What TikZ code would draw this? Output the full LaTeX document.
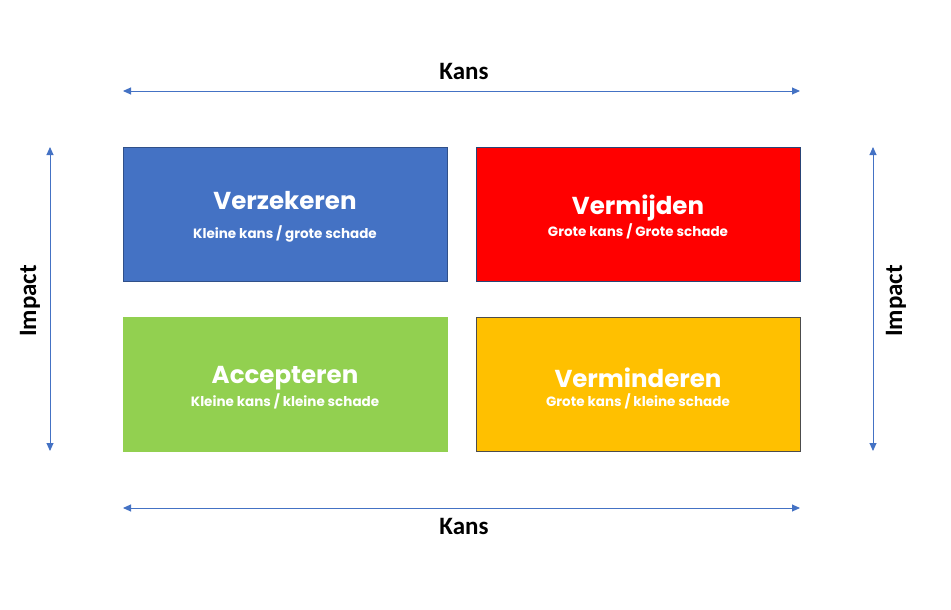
\documentclass[tikz,border=0pt]{standalone}
\usepackage{fontspec}
\setmainfont{Poppins}
\newfontfamily\axisfont{Carlito}
\usetikzlibrary{arrows.meta,positioning}
\definecolor{insureblue}{HTML}{4472C4}
\definecolor{avoidred}{HTML}{FF0000}
\definecolor{acceptgreen}{HTML}{92D050}
\definecolor{reduceyellow}{HTML}{FFC000}
\definecolor{axisblue}{HTML}{4472C4}

\begin{document}
\begin{tikzpicture}[x=1pt,y=-1pt,
  quad/.style={draw,minimum width=324pt,minimum height=134pt,
               align=center,text=white,inner sep=0pt},
  insure/.style={quad,fill=insureblue,draw=insureblue!70!black},
  avoid/.style={quad,fill=avoidred,draw=insureblue!60!black},
  accept/.style={quad,fill=acceptgreen,draw=acceptgreen},
  reduce/.style={quad,fill=reduceyellow,draw=black!70},
  title/.style={font=\fontsize{24.5}{28}\selectfont\bfseries},
  sub/.style={font=\fontsize{13.5}{16}\selectfont\bfseries},
  axislabel/.style={font=\axisfont\fontsize{25}{30}\selectfont\bfseries},
  axis/.style={{Triangle[length=8pt,width=7pt]}-{Triangle[length=8pt,width=7pt]},
               draw=axisblue,line width=0.9pt}]
\useasboundingbox (0,0) rectangle (951,610);
% quadrants
\node[insure] (verz) at (285,214) {};
\node[avoid]  (verm) at (638,214) {};
\node[accept] (acc)  at (285,384) {};
\node[reduce] (vmin) at (638,384) {};
\node[title,text=white] (verzT) at (285,201) {Verzekeren};
\node[sub,text=white]   (verzS) at (285,234) {Kleine kans / grote schade};
\node[title,text=white] (vermT) at (638,208) {Vermijden};
\node[sub,text=white]   (vermS) at (638,231) {Grote kans / Grote schade};
\node[title,text=white] (accT)  at (285,378) {Accepteren};
\node[sub,text=white]   (accS)  at (285,401) {Kleine kans / kleine schade};
\node[title,text=white] (vminT) at (638,378) {Verminderen};
\node[sub,text=white]   (vminS) at (638,401) {Grote kans / kleine schade};
% axes
\coordinate (topL) at (123,91);   \coordinate (topR) at (800,91);
\coordinate (botL) at (123,508);  \coordinate (botR) at (800,508);
\coordinate (lftT) at (50,147);   \coordinate (lftB) at (50,451);
\coordinate (rgtT) at (873,147);  \coordinate (rgtB) at (873,451);
\foreach \a/\b in {topL/topR,botL/botR,lftT/lftB,rgtT/rgtB}
  \draw[axis] (\a)--(\b);
\node[axislabel] (kansT) at (464,71) {Kans};
\node[axislabel] (kansB) at (464,526) {Kans};
\node[axislabel,rotate=90] (impL) at (30,301) {Impact};
\node[axislabel,rotate=90] (impR) at (896,301) {Impact};
\end{tikzpicture}
\end{document}
